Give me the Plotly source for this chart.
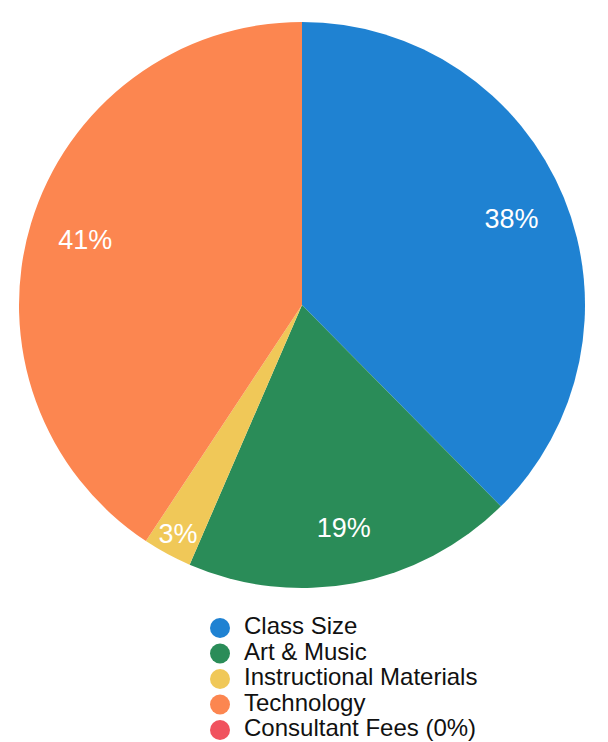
import plotly.graph_objects as go

categories = ["Class Size", "Art & Music", "Instructional Materials", "Technology", "Consultant Fees"]
legend_names = ["Class Size", "Art & Music", "Instructional Materials", "Technology", "Consultant Fees (0%)"]
values = [37.6, 18.9, 2.8, 40.7, 0]
labels_text = ["38%", "19%", "3%", "41%", ""]
colors = ["#1f82d2", "#2a8c58", "#f0c858", "#fc8650", "#f0525e"]

W, H = 608, 742
dom = dict(x=[19/W, 585/W], y=[1-588/H, 1-22/H])

# legend drawn as a small scatter "key" below the pie
key_x_px = 220        # pixel column of key markers
key_text_gap = 24     # gap from marker centre to label start
key_first_row_px = 628
key_row_step_px = 25.5
rows = list(range(len(legend_names)))

fig = go.Figure()
fig.add_trace(go.Pie(
    labels=categories, values=values, textinfo="none",
    sort=False, direction="clockwise", rotation=0,
    marker=dict(colors=colors, line=dict(width=0)),
    showlegend=False, domain=dom,
))
# transparent ring trace carrying the percentage labels at ~0.8 r
fig.add_trace(go.Pie(
    labels=categories, values=values, text=labels_text,
    textinfo="text", sort=False, direction="clockwise", rotation=0,
    hole=0.6,
    marker=dict(colors=["rgba(0,0,0,0)"] * len(values), line=dict(width=0)),
    textfont=dict(color="white", size=27, family="Liberation Sans, Arial"),
    insidetextorientation="horizontal", textposition="inside",
    showlegend=False, domain=dom, hoverinfo="skip",
))
fig.add_trace(go.Scatter(
    x=[0] * len(rows), y=rows, mode="markers",
    marker=dict(color=colors, size=20, symbol="circle", line=dict(width=0)),
    showlegend=False, hoverinfo="skip",
))
fig.add_trace(go.Scatter(
    x=[key_text_gap] * len(rows), y=rows, mode="text", text=legend_names,
    textposition="middle right",
    textfont=dict(size=24, family="Liberation Sans, Arial", color="#111"),
    showlegend=False, hoverinfo="skip", cliponaxis=False,
))

y_top = -key_first_row_px / key_row_step_px
y_bot = (H - key_first_row_px) / key_row_step_px
fig.update_layout(
    width=W, height=H, margin=dict(l=0, r=0, t=0, b=0),
    paper_bgcolor="white", plot_bgcolor="rgba(0,0,0,0)",
    showlegend=False,
    xaxis=dict(visible=False, range=[-key_x_px, W - key_x_px], domain=[0, 1], fixedrange=True),
    yaxis=dict(visible=False, range=[y_bot, y_top], domain=[0, 1], fixedrange=True),
    uniformtext=dict(minsize=27, mode="show"),
)
fig.write_html("out.html")
